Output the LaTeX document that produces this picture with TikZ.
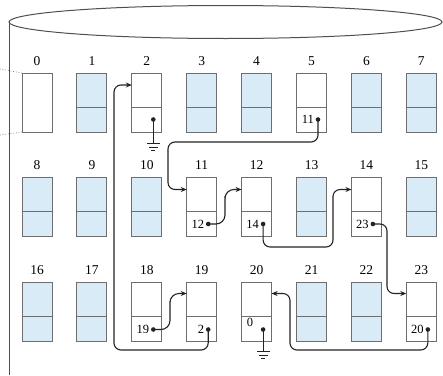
\documentclass[tikz,border=0pt]{standalone}
\usepackage{fontspec}
\setmainfont{Liberation Serif}
\usetikzlibrary{arrows.meta,calc}
\definecolor{cellblue}{RGB}{218,235,248}
\definecolor{edgegray}{RGB}{110,110,110}
\definecolor{ink}{RGB}{35,35,35}
\tikzset{
  cellw/.style={draw=edgegray,line width=1pt,fill=white,minimum width=30pt,minimum height=59pt,inner sep=0pt,outer sep=0pt},
  cellb/.style={cellw,fill=cellblue},
  lab/.style={font=\fontsize{13.5}{13.5}\selectfont,anchor=base,inner sep=0pt},
  num/.style={font=\fontsize{12.5}{12.5}\selectfont,inner sep=0pt},
  link/.style={draw=ink,line width=1.1pt,rounded corners=7pt,-{Stealth[length=6pt,width=5pt]}},
  wire/.style={draw=ink,line width=1.1pt},
  dotm/.style={fill=ink},
}
\begin{document}
\begin{tikzpicture}[x=1pt,y=-1pt]
\useasboundingbox (0,0) rectangle (443,375);
% cylinder
\draw[draw=ink!80,line width=1pt] (225.5,22) ellipse [x radius=216.5, y radius=16.5];
\draw[draw=ink!80,line width=1pt] (9,22) -- (9,375);
% cells
\foreach \i in {1,3,4,6,7,8,9,10,13,15,16,17,21,22} {
  \pgfmathtruncatemacro\col{mod(\i,8)}
  \pgfmathtruncatemacro\row{div(\i,8)}
  \node[cellb] (b\i) at ({37+54.9*\col},{102.5+104.5*\row}) {};
}
\foreach \i in {0,2,5,11,12,14,18,19,20,23} {
  \pgfmathtruncatemacro\col{mod(\i,8)}
  \pgfmathtruncatemacro\row{div(\i,8)}
  \node[cellw] (b\i) at ({37+54.9*\col},{102.5+104.5*\row}) {};
}
\foreach \i in {0,...,23} {
  \node[lab] at ([yshift=8pt]b\i.north) {\i};
}
\foreach \i in {1,...,23} {
  \draw[draw=edgegray,line width=1pt] ([yshift=25pt]b\i.south west) -- ([yshift=25pt]b\i.south east);
}
% dotted leaders to cell 0
\draw[edgegray,dotted,line width=0.7pt] (0,69) -- (b0.north west);
\draw[edgegray,dotted,line width=0.7pt] (0,135) -- (b0.south west);
% pointer dots
\foreach \i in {2,5,11,12,14} {
  \coordinate (p\i) at ([xshift=-8.5pt,yshift=12.5pt]b\i.south east);
}
\foreach \i in {18,19,20,23} {
  \coordinate (p\i) at ([xshift=-8.5pt,yshift=11.5pt]b\i.south east);
}
\foreach \i/\t in {5/11,11/12,12/14,14/23,18/19,19/2,23/20} {
  \node[num,anchor=east] at ([xshift=-4pt]p\i) {\t};
}
\node[num,anchor=base west] (z20) at ([xshift=5pt,yshift=15pt]b20.south west) {0};
% links
\draw[link] (p5) |- (168,142) |- ([yshift=17.5pt]b11.west);
\draw[link,rounded corners=9pt] (p11) -| (225,205) |- ([yshift=17.5pt]b12.west);
\draw[link] (p12) |- (333,247) |- ([yshift=17.5pt]b14.west);
\draw[link] (p14) -| (387,260) |- ([yshift=18pt]b23.west);
\draw[link,rounded corners=9pt] (p18) -| (170,310) |- ([yshift=18pt]b19.west);
\draw[link] (p19) |- (114,350) |- ([yshift=17.5pt]b2.west);
\draw[link] (p23) |- (290,350) |- ([yshift=18pt]b20.east);
% grounds
\coordinate (g2) at ([yshift=-24pt]p2);
\coordinate (g20) at ([yshift=-22pt]p20);
\draw[wire] (p2) -- (g2);
\draw[wire] (p20) -- (g20);
\foreach \g in {g2,g20} {
  \draw[wire,line width=0.8pt] ([xshift=-6.5pt]\g) -- ([xshift=6.5pt]\g);
  \draw[wire,line width=0.8pt] ([xshift=-4.5pt,yshift=-3.5pt]\g) -- ([xshift=4.5pt,yshift=-3.5pt]\g);
  \draw[wire,line width=0.8pt] ([xshift=-2pt,yshift=-7pt]\g) -- ([xshift=2pt,yshift=-7pt]\g);
}
\foreach \i in {2,5,11,12,14,18,19,20,23} {
  \fill[dotm] (p\i) circle (2.3pt);
}
\end{tikzpicture}
\end{document}
